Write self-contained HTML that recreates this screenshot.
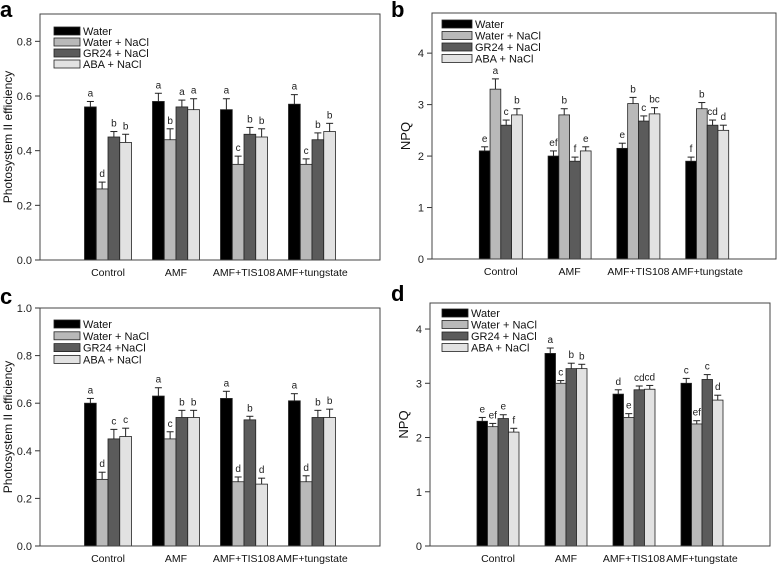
<!DOCTYPE html>
<html><head><meta charset="utf-8"><style>
body{margin:0;background:#fff;}
svg{display:block;font-family:"Liberation Sans",Arial,sans-serif;}
</style></head><body>
<svg id="fig" width="778" height="566" viewBox="0 0 778 566"></svg>
<script>
const categories=["Control","AMF","AMF+TIS108","AMF+tungstate"];
const seriesNames=["Water","Water + NaCl","GR24 + NaCl","ABA + NaCl"];
const seriesNamesC=["Water","Water + NaCl","GR24 +NaCl","ABA + NaCl"];
// panel a
const aWater=[0.56,0.58,0.55,0.57], aWaterErr=[0.02,0.03,0.04,0.035];
const aSalt=[0.26,0.44,0.35,0.35], aSaltErr=[0.025,0.04,0.03,0.02];
const aGR=[0.45,0.56,0.46,0.44], aGRErr=[0.02,0.025,0.025,0.025];
const aABA=[0.43,0.55,0.45,0.47], aABAErr=[0.03,0.04,0.03,0.03];
const aLetters=[["a","d","b","b"],["a","b","a","a"],["a","c","b","b"],["a","c","b","b"]];
// panel b
const bWater=[2.1,2.0,2.15,1.9], bWaterErr=[0.08,0.1,0.1,0.08];
const bSalt=[3.3,2.8,3.02,2.92], bSaltErr=[0.2,0.12,0.12,0.12];
const bGR=[2.6,1.9,2.68,2.6], bGRErr=[0.1,0.08,0.1,0.1];
const bABA=[2.8,2.1,2.82,2.5], bABAErr=[0.12,0.08,0.12,0.1];
const bLetters=[["e","a","c","b"],["ef","b","f","e"],["e","b","c","bc"],["f","b","cd","d"]];
// panel c
const cWater=[0.6,0.63,0.62,0.61], cWaterErr=[0.02,0.035,0.03,0.03];
const cSalt=[0.28,0.45,0.27,0.27], cSaltErr=[0.03,0.03,0.02,0.025];
const cGR=[0.45,0.54,0.53,0.54], cGRErr=[0.04,0.03,0.015,0.03];
const cABA=[0.46,0.54,0.26,0.54], cABAErr=[0.035,0.03,0.025,0.035];
const cLetters=[["a","d","c","c"],["a","c","b","b"],["a","d","b","d"],["a","d","b","b"]];
// panel d
const dWater=[2.3,3.55,2.8,3.0], dWaterErr=[0.07,0.1,0.08,0.09];
const dSalt=[2.2,3.0,2.37,2.25], dSaltErr=[0.06,0.05,0.07,0.06];
const dGR=[2.35,3.27,2.88,3.07], dGRErr=[0.07,0.1,0.07,0.09];
const dABA=[2.1,3.27,2.89,2.69], dABAErr=[0.07,0.08,0.07,0.09];
const dLetters=[["e","ef","e","f"],["a","c","b","b"],["d","e","cd","cd"],["c","ef","c","d"]];
const psTicks=["0.0","0.2","0.4","0.6","0.8"];
const psTicksC=["0.0","0.2","0.4","0.6","0.8","1.0"];
const npqTicks=["0","1","2","3","4"];

const fills=["#000000","#b9b9b9","#5b5b5b","#e2e2e2"];
const NS="http://www.w3.org/2000/svg";
const svg=document.getElementById("fig");
function mk(tag,attrs,parent,text){const e=document.createElementNS(NS,tag);for(const k in attrs)e.setAttribute(k,attrs[k]);if(text!==undefined)e.textContent=text;(parent||svg).appendChild(e);return e;}

function panel(p){
  const g=mk("g",{});
  
  
  const yS=v=>p.y1-(v/p.ymax)*(p.y1-p.y0);
  const slot=(p.x1-p.x0)/5;
  const xC=i=>p.x0+slot*(i+1);
  const bw=p.gw/4;
  const pl=mk("text",{x:p.lx,y:p.ly,"font-size":22,"font-weight":"bold"},g,p.id);
  
  
  p.ticks.forEach(t=>{const v=parseFloat(t);const y=yS(v);
    mk("line",{x1:p.x0-5,x2:p.x0,y1:y,y2:y,stroke:"#333"},g);
    const tl=mk("text",{x:p.x0-8,y:y+4,"font-size":11,"text-anchor":"end",fill:"#222"},g,t);
    
    
  });
  const yl=mk("text",{x:0,y:0,"font-size":p.ylSize,"text-anchor":"middle",fill:"#111",transform:`translate(${p.ylx},${(p.y0+p.y1)/2}) rotate(-90)`},g,p.ylabel);
  
  
  categories.forEach((c,i)=>{
    const xl=mk("text",{x:xC(i),y:p.y1+16,"font-size":10.5,"text-anchor":"middle",fill:"#111"},g,c);
    
    
    p.series.forEach((s,k)=>{
      const v=s.v[i],e=s.e[i];
      const x=xC(i)-p.gw/2+k*bw;
      const r=mk("rect",{x:x,y:yS(v),width:bw,height:p.y1-yS(v),fill:fills[k],stroke:"#222","stroke-width":0.8},g);
      
      
      const xm=x+bw/2,yt=yS(v+e);
      mk("line",{x1:xm,x2:xm,y1:yS(v),y2:yt,stroke:"#222","stroke-width":1},g);
      mk("line",{x1:xm-3.5,x2:xm+3.5,y1:yt,y2:yt,stroke:"#222","stroke-width":1},g);
      const lt=mk("text",{x:xm,y:yt-5,"font-size":10,"text-anchor":"middle",fill:"#222"},g,p.letters[i][k]);
      
      
    });
  });
  mk("rect",{x:p.x0,y:p.y0,width:p.x1-p.x0,height:p.y1-p.y0,fill:"none",stroke:"#444","stroke-width":1},g);
  p.names.forEach((n,k)=>{
    const y=p.legY+k*p.legDy;
    const sw=mk("rect",{x:p.legX,y:y,width:p.legW,height:8,fill:fills[k],stroke:"#222","stroke-width":0.8},g);
    
    
    const lt=mk("text",{x:p.legX+p.legW+3,y:y+8,"font-size":11,fill:"#111"},g,n);
    
    
  });
}
panel({id:"a",x0:40,x1:380,y0:14,y1:260,ymax:0.9,gw:47,ticks:psTicks,ylabel:"Photosystem II efficiency",ylSize:12,ylx:12,lx:0,ly:17,
  series:[{v:aWater,e:aWaterErr},{v:aSalt,e:aSaltErr},{v:aGR,e:aGRErr},{v:aABA,e:aABAErr}],letters:aLetters,names:seriesNames,legX:54,legY:27,legDy:11,legW:26});
panel({id:"b",x0:432,x1:776,y0:13,y1:259,ymax:4.78,gw:43,ticks:npqTicks,ylabel:"NPQ",ylSize:13,ylx:410,lx:391,ly:17,
  series:[{v:bWater,e:bWaterErr},{v:bSalt,e:bSaltErr},{v:bGR,e:bGRErr},{v:bABA,e:bABAErr}],letters:bLetters,names:seriesNames,legX:442,legY:20,legDy:11.5,legW:30});
panel({id:"c",x0:40,x1:380,y0:308,y1:546,ymax:1.0,gw:47,ticks:psTicksC,ylabel:"Photosystem II efficiency",ylSize:12,ylx:12,lx:0,ly:304,
  series:[{v:cWater,e:cWaterErr},{v:cSalt,e:cSaltErr},{v:cGR,e:cGRErr},{v:cABA,e:cABAErr}],letters:cLetters,names:seriesNamesC,legX:54,legY:320,legDy:11.8,legW:26});
panel({id:"d",x0:430,x1:770,y0:303,y1:546,ymax:4.48,gw:42,ticks:npqTicks,ylabel:"NPQ",ylSize:13,ylx:408,lx:391,ly:301,
  series:[{v:dWater,e:dWaterErr},{v:dSalt,e:dSaltErr},{v:dGR,e:dGRErr},{v:dABA,e:dABAErr}],letters:dLetters,names:seriesNames,legX:442,legY:309,legDy:11.5,legW:26});
</script>
</body></html>
